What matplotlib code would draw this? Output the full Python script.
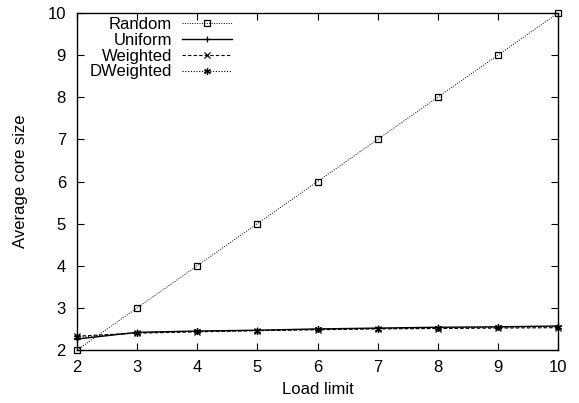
import matplotlib.pyplot as plt
import numpy as np

plt.rcParams['font.family'] = ['Liberation Sans', 'DejaVu Sans']

load = [2, 3, 4, 5, 6, 7, 8, 9, 10]
random_core = [2, 3, 4, 5, 6, 7, 8, 9, 10]
uniform_core = [2.26, 2.42, 2.45, 2.47, 2.50, 2.52, 2.54, 2.55, 2.57]
weighted_core = [2.33, 2.40, 2.43, 2.46, 2.48, 2.50, 2.51, 2.52, 2.53]
dweighted_core = [2.30, 2.41, 2.44, 2.46, 2.49, 2.51, 2.52, 2.54, 2.55]

fig = plt.figure(figsize=(5.79, 4.03), dpi=100)
ax = fig.add_axes([77/579, 1 - 350/403, 481/579, 337/403])

ax.plot(load, random_core, color='black', lw=0.7, ls=(0, (1, 1.5)),
        marker='s', mfc='none', mec='black', ms=5, mew=0.9, label='Random',
        clip_on=False)
ax.plot(load, uniform_core, color='black', lw=1.0, ls='-',
        marker='+', ms=5, mew=0.9, label='Uniform', clip_on=False)
ax.plot(load, weighted_core, color='black', lw=0.8, ls=(0, (3, 2)),
        marker='x', ms=4, mew=0.9, label='Weighted', clip_on=False)
ax.plot(load, dweighted_core, color='black', lw=0.8, ls=(0, (1, 1.5)),
        marker=(6, 2, 0), ms=5, mew=0.9, label='DWeighted', clip_on=False)

ax.set_xlim(2, 10)
ax.set_ylim(2, 10)
ax.set_xticks(range(2, 11))
ax.set_yticks(range(2, 11))
for s in ax.spines.values():
    s.set_linewidth(1.0)
ax.tick_params(direction='in', top=True, right=True, labelsize=12, length=5)
ax.tick_params(axis='x', pad=7)
ax.tick_params(axis='y', pad=8)
ax.set_xlabel('Load limit', fontsize=12, labelpad=5)
ax.set_ylabel('Average core size', fontsize=12, labelpad=14)

ax.legend(loc='upper left', frameon=False, markerfirst=False, fontsize=12,
          handlelength=3.0, labelspacing=0.05, borderaxespad=0.0,
          handletextpad=0.6, bbox_to_anchor=(0.012, 1.008))

fig.savefig('out.png', dpi=100)
